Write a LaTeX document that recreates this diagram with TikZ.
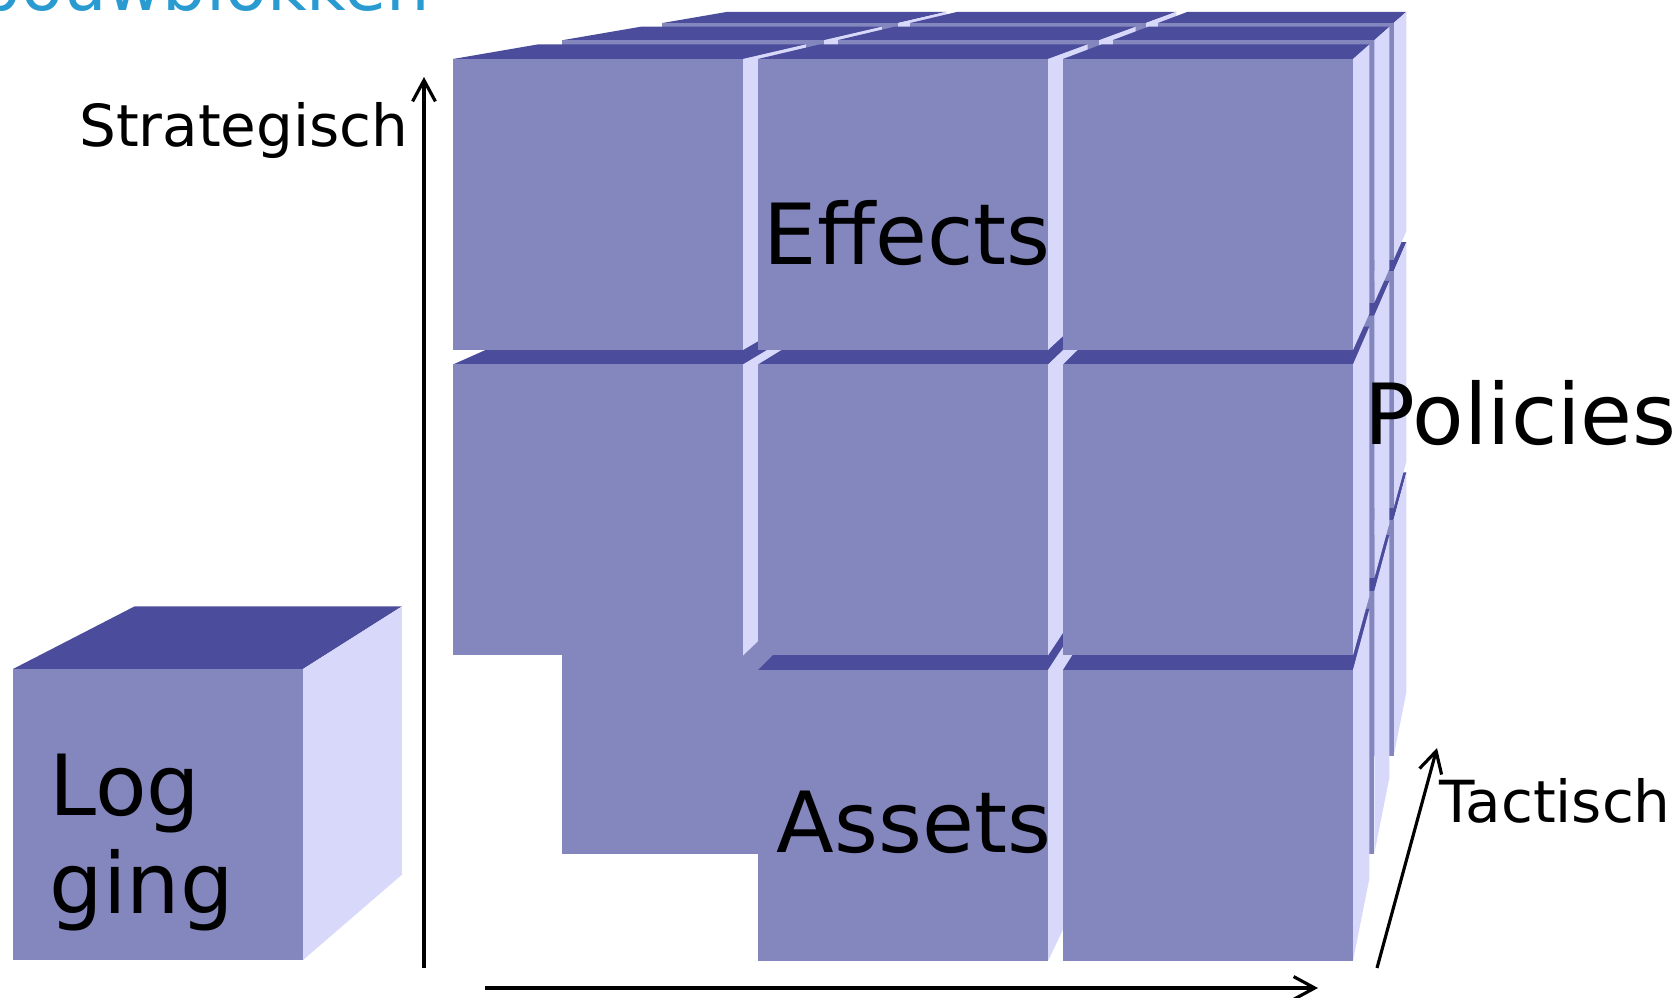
\documentclass[tikz,border=0pt]{standalone}
\usepackage{fontspec}
\setmainfont{DejaVu Sans}
\usetikzlibrary{calc, arrows.meta}

\definecolor{cubefront}{HTML}{8487BD}
\definecolor{cubetop}{HTML}{4B4C9C}
\definecolor{cubeside}{HTML}{D7D8FA}
\definecolor{titleblue}{HTML}{2A9BD1}

\tikzset{
  front face/.style={fill=cubefront},
  top face/.style={fill=cubetop},
  side face/.style={fill=cubeside},
  axis/.style={line width=0.9pt, -{Straight Barb[length=6pt,width=6.5pt]}},
  big label/.style={font=\fontsize{24}{28}\selectfont, inner sep=0pt},
  axis label/.style={font=\fontsize{16.5}{20}\selectfont, inner sep=0pt},
}

% one block seen from (vp): #1,#2 top left of the front face, #3 front scale, #4 back scale
\newcommand{\pblock}[4]{%
  \fill[top face] ($(vp)!#3!(#1,#2)$) -- ($(vp)!#3!(#1+290,#2)$)
    -- ($(vp)!#4!(#1+290,#2)$) -- ($(vp)!#4!(#1,#2)$) -- cycle;
  \fill[side face] ($(vp)!#3!(#1+290,#2)$) -- ($(vp)!#3!(#1+290,#2+291)$)
    -- ($(vp)!#4!(#1+290,#2+291)$) -- ($(vp)!#4!(#1+290,#2)$) -- cycle;
  \fill[front face] ($(vp)!#3!(#1,#2)$) rectangle ($(vp)!#3!(#1+290,#2+291)$);
}

\begin{document}
\begin{tikzpicture}[x=0.1mm, y=-0.1mm]
  \useasboundingbox (0,0) rectangle (1680,998);
  \clip (0,0) rectangle (1680,998);

  \coordinate (vp) at (1570,-133);

  % title, cut at the top
  \node [font=\fontsize{19.5}{23}\selectfont, text=titleblue, anchor=base west, inner sep=0pt] (title) at (-23,11) {bouwblokken};

  % the two back layers of the stack
  \foreach \sf/\sb in {0.813/0.754, 0.902/0.832}
    \foreach \c/\r in {0/2,0/1,0/0, 1/2,1/1,1/0, 2/2,2/1,2/0}
      \pblock{453+\c*305}{59+\r*305.5}{\sf}{\sb};

  % front layer, bottom left block is missing
  \foreach \c/\r in {0/1,0/0, 1/2,1/1,1/0, 2/2,2/1,2/0}
    \pblock{453+\c*305}{59+\r*305.5}{1}{0.924};

  % the loose block
  \pblock{13}{669}{1}{0.922}

  % Add the labels
  \node [big label, anchor=base west] (effects) at (763,265) {Effects};
  \node [big label, anchor=base west] (assets) at (776,852) {Assets};
  \node [big label, anchor=base west] (policies) at (1364,445) {Policies};
  \node [big label, anchor=north west, align=left] (logging) at (49,753) {Log\\ging};

  \node [axis label, anchor=base east] (strategisch) at (409,147) {Strategisch};
  \node [axis label, anchor=base west] (tactisch) at (1439,823) {Tactisch};

  % Draw the axes
  \coordinate (strat-from) at (424,968);
  \coordinate (strat-to) at (424,77);
  \coordinate (hor-from) at (485,988);
  \coordinate (hor-to) at (1318,988);
  \coordinate (tact-from) at (1377,968);
  \coordinate (tact-to) at (1437,748);

  \draw [axis] (strat-from) -- (strat-to);
  \draw [axis] (hor-from) -- (hor-to);
  \draw [axis] (tact-from) -- (tact-to);
\end{tikzpicture}
\end{document}
